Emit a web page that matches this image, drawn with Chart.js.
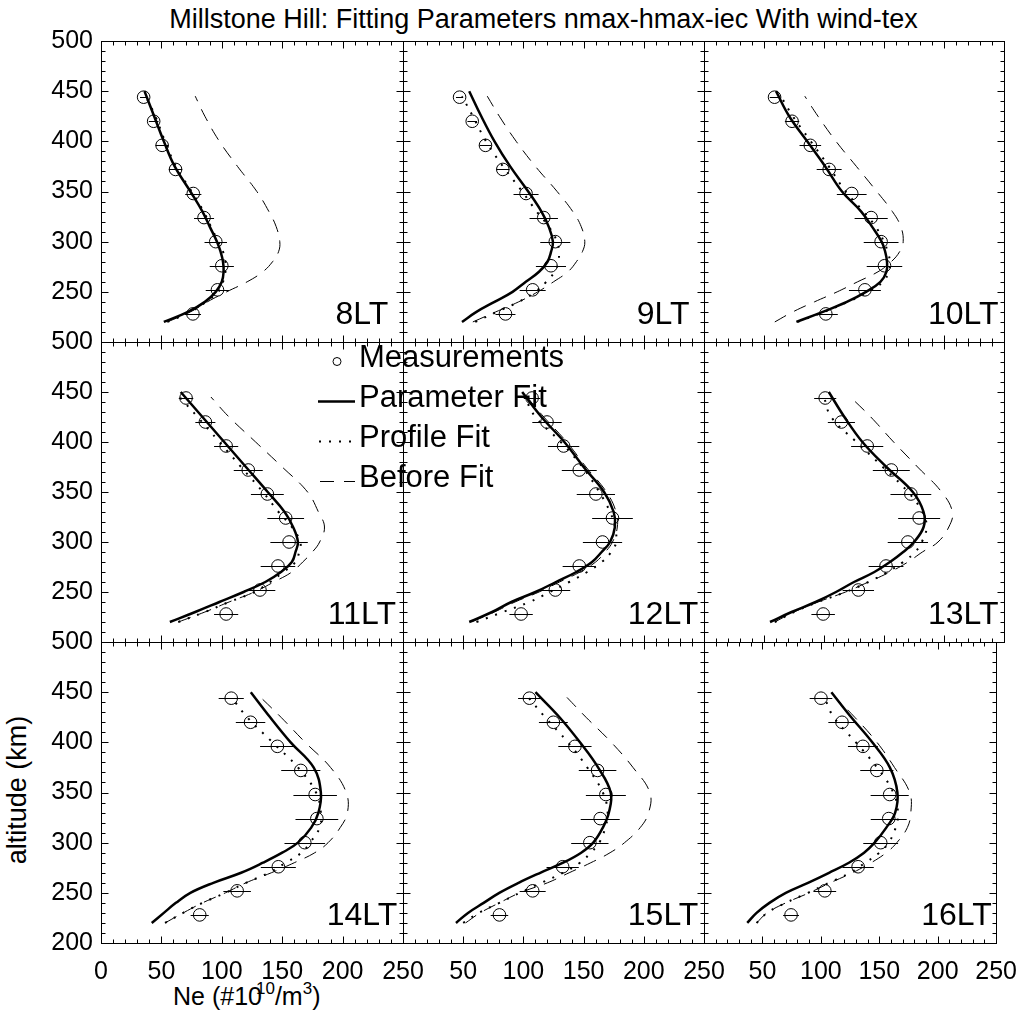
<!DOCTYPE html>
<html>
<head>
<meta charset="utf-8">
<script src="https://cdn.jsdelivr.net/npm/chart.js@4.4.1/dist/chart.umd.min.js"></script>
<style>
  body { margin: 0; background: #fff; }
  #wrap { position: relative; width: 1031px; height: 1015px; overflow: hidden;
          font-family: "Liberation Sans", Arial, Helvetica, sans-serif; color: #000; }
  #wrap canvas { position: absolute; left: 0; top: 0; }
  .lbl { position: absolute; white-space: nowrap; }
  #title { left: 0; width: 1087px; top: 6px; text-align: center; font-size: 27px; line-height: 27px; }
  #ylab { left: 17px; top: 790px; font-size: 27px; line-height: 27px; transform: translate(-50%, -50%) rotate(-90deg); }
  #xlab { left: 173px; top: 984px; font-size: 25px; line-height: 25px; }
  #xlab .sup1 { font-size: 17px; position: relative; top: -11px; margin-left: -6px; }
  #xlab .sup2 { font-size: 17px; position: relative; top: -11px; }
</style>
</head>
<body>
<div id="wrap">
  <div class="lbl" id="title">Millstone Hill: Fitting Parameters nmax-hmax-iec With wind-tex</div>
  <div class="lbl" id="ylab">altitude (km)</div>
  <div class="lbl" id="xlab">Ne (#10<span class="sup1">10</span>/m<span class="sup2">3</span>)</div>
</div>
<script>
// local time of each panel
const panelNames = ["8LT", "9LT", "10LT", "11LT", "12LT", "13LT", "14LT", "15LT", "16LT"];
const xTicks = [0, 50, 100, 150, 200, 250];
const yTicks = [200, 250, 300, 350, 400, 450, 500];

// measured altitudes (km), bottom to top
const measAlt = [228, 252, 276, 300, 324, 348, 372, 396, 420, 444];
const measNe = [
  [76.1, 96.4, 100, 95, 85.3, 76.4, 61.7, 50.6, 43.6, 35.3],
  [85.1, 107.7, 122.9, 126.5, 116.9, 102.2, 82.9, 68.5, 57.5, 47],
  [101.5, 134.1, 150.4, 147.6, 139.3, 123.1, 104.3, 88.6, 73.4, 58.8],
  [103.6, 131.6, 146.5, 155.7, 152.9, 137.7, 121.9, 103.6, 86.4, 70.4],
  [98.1, 126.5, 146.4, 165.7, 174, 160.2, 146.4, 133.4, 119.6, 107.2],
  [99.3, 128.6, 151.7, 169.9, 179.3, 172.4, 156.1, 136, 114.5, 101],
  [81.7, 112.7, 146.8, 168.7, 178.7, 177.3, 165.4, 146, 123.8, 107.8],
  [80.1, 107.7, 132.6, 155.2, 163.8, 168.5, 161.6, 142.8, 124.9, 105],
  [74.5, 103.4, 131.9, 151.2, 158.1, 158.9, 147.9, 136, 118.1, 100.1]
];
// half width of the error bars
const measErr = [
  [6.7, 9.7, 10, 9.3, 8.3, 6.7, 5.5, 5.5, 4, 3],
  [8.3, 10.8, 12.5, 12.5, 11.8, 10.4, 5.5, 5, 4, 3],
  [10, 13.3, 14.8, 14.5, 13.8, 12.4, 10.4, 9, 6, 4],
  [10, 12.7, 14.3, 15.5, 15.2, 13.6, 12, 10, 8.3, 6],
  [9.7, 12.4, 13.8, 16.3, 16.9, 15.9, 14.5, 13, 12.2, 6.9],
  [9.8, 13.1, 14.5, 16.8, 17.5, 17, 15.4, 13.4, 11.3, 9.2],
  [7.5, 11.4, 14.5, 16.8, 17.7, 18, 16.2, 14.3, 12.2, 10.4],
  [7.3, 10.8, 13.4, 15.5, 16.2, 16.6, 15.6, 13.8, 12, 9.4],
  [6.8, 9.7, 13.4, 14.9, 15.4, 16.3, 14.2, 12.8, 11.7, 9.7]
];

// fitted profiles
const fitAlt = [220, 230, 240, 250, 260, 270, 280, 290, 300, 315, 330, 350, 375, 400, 425, 450];
const profAlt = [220, 230, 240, 250, 260, 270, 280, 290, 300, 315, 330, 350, 375, 400, 425, 445];
const paramNe = [
  [52, 72, 86, 95, 100, 101.5, 101, 99, 96, 90, 84, 74, 61, 52, 44, 36],
  [49, 61, 76, 91, 102, 113, 120, 123, 124.5, 121, 115, 104, 89, 76, 65, 55],
  [77, 99, 119, 135, 147, 152, 152.5, 151, 148, 140, 131, 115, 101, 86, 71, 60],
  [57, 78, 98, 118, 136, 149, 158, 161, 163, 159, 152, 138, 120, 102, 84, 66],
  [55, 74, 90, 110, 127, 144, 157, 165, 172, 176, 175, 167, 150, 134, 115, 99],
  [55, 73, 93, 110, 125, 142, 155, 166, 175, 183, 183, 174, 152, 132, 117, 104],
  [42, 52, 62, 74, 93, 116, 134, 150, 163, 174, 180, 182, 176, 157, 140, 124],
  [44, 54, 67, 80, 96, 114, 133, 148, 158, 166, 171, 172.5, 162, 147, 130, 110],
  [37, 45, 56, 70, 89, 107, 124, 137, 146, 156, 163.6, 165.5, 159, 144, 126, 109]
];
const profileNe = [
  [55, 74, 87, 97, 101, 103, 103, 101, 97, 91, 85, 75, 62, 53, 45, 37],
  [60, 78, 96, 110, 119, 126, 129, 129.5, 128, 121, 111, 99, 83, 69, 58, 49],
  [78, 100, 120, 137, 149, 154, 155, 153, 150, 143, 133, 118, 104, 89, 74, 64],
  [64, 86, 106, 127, 140, 151, 161, 164, 165, 158, 147, 134, 116, 98, 80, 65],
  [61, 83, 105, 122, 138, 153, 165, 173, 177, 176, 172, 163, 149, 131, 110, 101],
  [59, 75, 95, 118, 137, 153, 166, 176, 181.5, 185.5, 182, 170, 149, 127, 106, 100],
  [53, 68, 84, 103, 120, 139, 153, 166, 173, 181, 182, 178, 163, 142, 121, 108],
  [50, 63, 80, 97, 115, 133, 147, 156, 163, 168, 170, 166, 153, 137, 118, 104],
  [45, 54, 70, 89, 107, 125, 138, 150, 158, 164, 166, 162, 148, 130, 111, 103]
];
const beforeNe = [
  [55, 74, 88, 104, 121, 134, 142, 147, 148, 145, 139, 129, 113, 98, 86, 78],
  [58, 77, 96, 112, 125, 137, 144, 149, 151, 148, 141, 128, 110, 94, 80, 70],
  [59, 74, 92, 111, 128, 145, 156, 163, 166, 164, 157, 144, 127, 110, 95, 84],
  [64, 86, 106, 127, 143, 158, 167, 175, 181, 185, 180, 171, 150, 128, 106, 91],
  [57, 76, 93, 113, 130, 147, 160, 168, 174, 178, 177, 169, 152, 136, 117, 103],
  [59, 75, 95, 118, 137, 155, 170, 182, 195, 204, 207, 198, 178, 158, 139, 122],
  [53, 68, 84, 103, 120, 141, 160, 177, 188, 198, 204, 203, 190, 169, 149, 132],
  [52, 64, 80, 97, 120, 138, 156, 172, 184, 197, 204, 205, 191, 173, 152, 136],
  [45, 54, 70, 90, 108, 127, 143, 156, 165, 174, 177, 176, 163, 148, 129, 112]
];

const colEdges = [101, 403, 704, 1004];
const rowEdges = [41, 342, 642, 943];
const W = 1031, H = 1015;
const Y_AXIS_W = 60, X_AXIS_H = 50;
const FONT = '"Liberation Sans", Arial, Helvetica, sans-serif';

function pts(xs, ys) {
  return xs.map((v, i) => ({ x: v, y: ys[i] }));
}

// box, inward ticks, error bars and the LT label
const panelDecor = {
  id: "panelDecor",
  afterDatasetsDraw(chart, args, opts) {
    const { ctx, chartArea: a, scales: { x, y } } = chart;
    const i = opts.panel;
    ctx.save();
    ctx.strokeStyle = "#000";
    ctx.lineWidth = 1;

    // error bars
    ctx.beginPath();
    measNe[i].forEach((v, k) => {
      const py = Math.round(y.getPixelForValue(measAlt[k])) + 0.5;
      ctx.moveTo(x.getPixelForValue(v - measErr[i][k]), py);
      ctx.lineTo(x.getPixelForValue(v + measErr[i][k]), py);
    });
    ctx.stroke();

    // frame
    const L = Math.round(a.left) + 0.5, R = Math.round(a.right) + 0.5;
    const T = Math.round(a.top) + 0.5, B = Math.round(a.bottom) + 0.5;
    ctx.strokeRect(L, T, R - L, B - T);

    ctx.beginPath();
    for (let v = 0; v <= 250; v += 10) {
      const px = Math.round(x.getPixelForValue(v)) + 0.5;
      const len = v % 50 === 0 ? 7 : 4;
      ctx.moveTo(px, B); ctx.lineTo(px, B - len);
      ctx.moveTo(px, T); ctx.lineTo(px, T + len);
    }
    for (let v = 200; v <= 500; v += 10) {
      const py = Math.round(y.getPixelForValue(v)) + 0.5;
      const len = v % 50 === 0 ? 7 : 4;
      ctx.moveTo(L, py); ctx.lineTo(L + len, py);
      ctx.moveTo(R, py); ctx.lineTo(R - len, py);
    }
    ctx.stroke();

    ctx.fillStyle = "#000";
    ctx.font = "32px " + FONT;
    ctx.textAlign = "center";
    ctx.textBaseline = "alphabetic";
    ctx.fillText(panelNames[i], x.getPixelForValue(216), y.getPixelForValue(218));

    if (opts.legend) {
      ctx.font = "31px " + FONT;
      ctx.textAlign = "left";
      const tx = 359;
      ctx.fillText("Measurements", tx, 367);
      ctx.fillText("Parameter Fit", tx, 407);
      ctx.fillText("Profile Fit", tx, 447);
      ctx.fillText("Before Fit", tx, 487);

      ctx.beginPath();
      ctx.arc(337, 361.5, 4, 0, Math.PI * 2);
      ctx.stroke();

      ctx.lineWidth = 2.5;
      ctx.beginPath(); ctx.moveTo(318, 401.5); ctx.lineTo(355, 401.5); ctx.stroke();
      ctx.lineWidth = 2;
      ctx.setLineDash([2, 8]);
      ctx.beginPath(); ctx.moveTo(319, 441.5); ctx.lineTo(355, 441.5); ctx.stroke();
      ctx.lineWidth = 1;
      ctx.setLineDash([14, 10]);
      ctx.beginPath(); ctx.moveTo(320, 481.5); ctx.lineTo(355, 481.5); ctx.stroke();
    }
    ctx.restore();
  }
};

const wrap = document.getElementById("wrap");

panelNames.forEach((name, i) => {
  const col = i % 3, row = Math.floor(i / 3);
  const showY = col === 0, showX = row === 2;
  const cv = document.createElement("canvas");
  cv.width = W;
  cv.height = H;
  wrap.appendChild(cv);

  new Chart(cv, {
    type: "line",
    data: {
      datasets: [
        {
          label: "Before Fit",
          data: pts(beforeNe[i], profAlt),
          borderColor: "#000", borderWidth: 1, borderDash: [13, 9],
          pointRadius: 0, tension: 0.4, fill: false
        },
        {
          label: "Profile Fit",
          data: pts(profileNe[i], profAlt),
          borderColor: "#000", borderWidth: 2, borderDash: [2, 8],
          pointRadius: 0, tension: 0.4, fill: false
        },
        {
          label: "Parameter Fit",
          data: pts(paramNe[i], fitAlt),
          borderColor: "#000", borderWidth: 2.5,
          pointRadius: 0, tension: 0.4, fill: false
        },
        {
          label: "Measurements",
          data: pts(measNe[i], measAlt),
          showLine: false,
          pointStyle: "circle", pointRadius: 6.3,
          pointBorderWidth: 1, pointBorderColor: "#000",
          pointBackgroundColor: "rgba(0,0,0,0)"
        }
      ]
    },
    options: {
      responsive: false,
      animation: false,
      events: [],
      layout: {
        padding: {
          left: colEdges[col] - (showY ? Y_AXIS_W : 0),
          right: W - colEdges[col + 1],
          top: rowEdges[row],
          bottom: H - rowEdges[row + 1] - (showX ? X_AXIS_H : 0)
        }
      },
      plugins: {
        legend: { display: false },
        tooltip: { enabled: false },
        panelDecor: { panel: i, legend: i === 3 }
      },
      scales: {
        x: {
          type: "linear", min: 0, max: 250,
          afterBuildTicks: (s) => { s.ticks = xTicks.map((v) => ({ value: v })); },
          afterFit: (s) => { s.height = showX ? X_AXIS_H : 0; },
          grid: { display: false, drawTicks: false },
          border: { display: false },
          ticks: {
            display: showX,
            padding: 14,
            color: "#000",
            maxRotation: 0,
            autoSkip: false,
            font: { size: 25, family: FONT },
            callback: (v) => (col > 0 && v === 0 ? "" : String(v))
          }
        },
        y: {
          type: "linear", min: 200, max: 500,
          afterBuildTicks: (s) => { s.ticks = yTicks.map((v) => ({ value: v })); },
          afterFit: (s) => { s.width = showY ? Y_AXIS_W : 0; },
          grid: { display: false, drawTicks: false },
          border: { display: false },
          ticks: {
            display: showY,
            padding: 8,
            color: "#000",
            autoSkip: false,
            font: { size: 25, family: FONT },
            callback: (v) => (row < 2 && v === 200 ? "" : String(v))
          }
        }
      }
    },
    plugins: [panelDecor]
  });
});
</script>
</body>
</html>
